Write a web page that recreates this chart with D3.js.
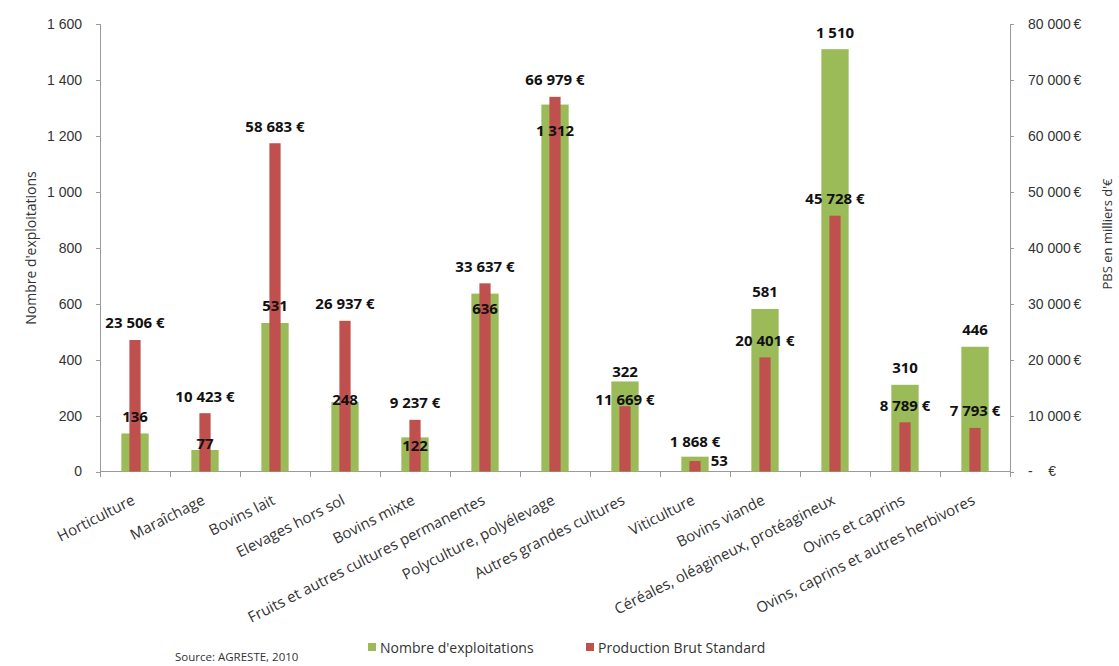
<!DOCTYPE html>
<html lang="fr">
<head>
<meta charset="utf-8">
<title>Exploitations et PBS par orientation</title>
<script src="https://cdn.jsdelivr.net/npm/d3@7"></script>
<style>
  html, body { margin: 0; padding: 0; background: #ffffff; }
  svg { display: block; font-family: "Open Sans", "Noto Sans", sans-serif; }
  .axis text { fill: #333; font-size: 14px; }
  .axis path, .axis line { stroke: #9a9a9a; stroke-width: 1; shape-rendering: crispEdges; }
  .cat { fill: #333; font-size: 15px; }
  .val { fill: #111; font-size: 15px; font-weight: 700; }
  .title { fill: #333; font-size: 14px; }
</style>
</head>
<body>
<svg id="chart" width="1119" height="666"></svg>
<script>
// Orientation technico-économique des exploitations
const categories = [
  "Horticulture",
  "Maraîchage",
  "Bovins lait",
  "Elevages hors sol",
  "Bovins mixte",
  "Fruits et autres cultures permanentes",
  "Polyculture, polyélevage",
  "Autres grandes cultures",
  "Viticulture",
  "Bovins viande",
  "Céréales, oléagineux, protéagineux",
  "Ovins et caprins",
  "Ovins, caprins et autres herbivores"
];

// Nombre d'exploitations (axe de gauche)
const nbExploitations = [136, 77, 531, 248, 122, 636, 1312, 322, 53, 581, 1510, 310, 446];

// Production Brute Standard, en milliers d'euros (axe de droite)
const pbs = [23506, 10423, 58683, 26937, 9237, 33637, 66979, 11669, 1868, 20401, 45728, 8789, 7793];

const leftTicks = [0, 200, 400, 600, 800, 1000, 1200, 1400, 1600];
const rightTicks = [0, 10000, 20000, 30000, 40000, 50000, 60000, 70000, 80000];

const seriesNames = ["Nombre d'exploitations", "Production Brut Standard"];
const sourceText = "Source: AGRESTE, 2010";

// ---- layout ----
const colors = { green: "#9bbb59", red: "#c0504d" };
const plot = { left: 100, right: 1010, top: 24, bottom: 471.5 };

// Hand-placed label offsets (px) where labels would otherwise collide
const greenLabelDy = { 1: 11, 3: 14, 4: 25, 5: 32, 6: 43, 7: 7, 8: 21 };
const greenLabelDx = { 8: 24 };
const redLabelDy = { 7: 10, 8: -2 };

const fr = d3.formatLocale({ decimal: ",", thousands: "\u00a0", grouping: [3], currency: ["", "\u00a0€"] });
const fmtInt = fr.format(",d");

const svg = d3.select("#chart");

const x = d3.scaleBand()
  .domain(categories)
  .range([plot.left, plot.right])
  .padding(0);

const yL = d3.scaleLinear().domain([0, 1600]).range([plot.bottom, plot.top]);
const yR = d3.scaleLinear().domain([0, 80000]).range([plot.bottom, plot.top]);

const bw = x.bandwidth();
const greenW = bw * 0.39;
const redW = bw * 0.16;
const cx = d => x(d) + bw / 2;

// ---- axes ----
svg.append("g")
  .attr("class", "axis")
  .attr("transform", `translate(${plot.left},0)`)
  .call(d3.axisLeft(yL).tickValues(leftTicks).tickSize(4).tickPadding(14)
    .tickFormat(d => fmtInt(d)));

svg.append("g")
  .attr("class", "axis")
  .attr("transform", `translate(${plot.right},0)`)
  .call(d3.axisRight(yR).tickValues(rightTicks).tickSize(4).tickPadding(14)
    .tickFormat(d => d === 0 ? "-\u00a0\u00a0\u00a0\u00a0€" : fmtInt(d) + "\u2009€"));

// category axis: baseline with tick marks at band boundaries
const xAxis = svg.append("g").attr("class", "axis");
xAxis.append("line")
  .attr("x1", plot.left).attr("x2", plot.right)
  .attr("y1", plot.bottom).attr("y2", plot.bottom);
xAxis.selectAll("line.tk")
  .data(categories.concat([null]))
  .join("line")
  .attr("class", "tk")
  .attr("x1", (d, i) => plot.left + i * bw)
  .attr("x2", (d, i) => plot.left + i * bw)
  .attr("y1", plot.bottom).attr("y2", plot.bottom + 5);

svg.append("g")
  .selectAll("text")
  .data(categories)
  .join("text")
  .attr("class", "cat")
  .attr("text-anchor", "end")
  .attr("transform", d => `translate(${cx(d) + 1},${plot.bottom + 32}) rotate(-27)`)
  .text(d => d);

// ---- bars ----
svg.append("g")
  .selectAll("rect")
  .data(categories)
  .join("rect")
  .attr("x", d => cx(d) - greenW / 2)
  .attr("width", greenW)
  .attr("y", (d, i) => yL(nbExploitations[i]))
  .attr("height", (d, i) => yL(0) - yL(nbExploitations[i]))
  .attr("fill", colors.green);

svg.append("g")
  .selectAll("rect")
  .data(categories)
  .join("rect")
  .attr("x", d => cx(d) - redW / 2)
  .attr("width", redW)
  .attr("y", (d, i) => yR(pbs[i]))
  .attr("height", (d, i) => yR(0) - yR(pbs[i]))
  .attr("fill", colors.red);

// ---- value labels ----
svg.append("g")
  .selectAll("text")
  .data(categories)
  .join("text")
  .attr("class", "val")
  .attr("text-anchor", (d, i) => greenLabelDx[i] ? "start" : "middle")
  .attr("x", (d, i) => greenLabelDx[i] ? cx(d) + greenW / 2 + 2 : cx(d))
  .attr("y", (d, i) => yL(nbExploitations[i]) - 17 + (greenLabelDy[i] || 0))
  .attr("dy", "0.36em")
  .text((d, i) => fmtInt(nbExploitations[i]));

svg.append("g")
  .selectAll("text")
  .data(categories)
  .join("text")
  .attr("class", "val")
  .attr("text-anchor", "middle")
  .attr("x", d => cx(d))
  .attr("y", (d, i) => yR(pbs[i]) - 17 + (redLabelDy[i] || 0))
  .attr("dy", "0.36em")
  .text((d, i) => fmtInt(pbs[i]) + "\u00a0€");

// ---- axis titles ----
svg.append("text")
  .attr("class", "title")
  .attr("text-anchor", "middle")
  .attr("transform", "translate(36,248) rotate(-90)")
  .text("Nombre d'exploitations");

svg.append("text")
  .attr("class", "title")
  .attr("text-anchor", "middle")
  .attr("transform", "translate(1112,234) rotate(-90)")
  .style("font-size", "13px")
  .text("PBS en milliers d'€");

// ---- legend ----
const legend = svg.append("g").attr("transform", "translate(368,648)");
const legendX = [0, 218];
seriesNames.forEach((name, i) => {
  const g = legend.append("g").attr("transform", `translate(${legendX[i]},0)`);
  g.append("rect").attr("x", 0).attr("y", -5).attr("width", 8).attr("height", 8)
    .attr("fill", i === 0 ? colors.green : colors.red);
  g.append("text").attr("class", "title").attr("x", 12).attr("y", 0).attr("dy", "0.35em")
    .text(name);
});

svg.append("text")
  .attr("class", "title")
  .attr("x", 175).attr("y", 657).attr("dy", "0.35em")
  .style("font-size", "11.5px")
  .text(sourceText);
</script>
</body>
</html>
